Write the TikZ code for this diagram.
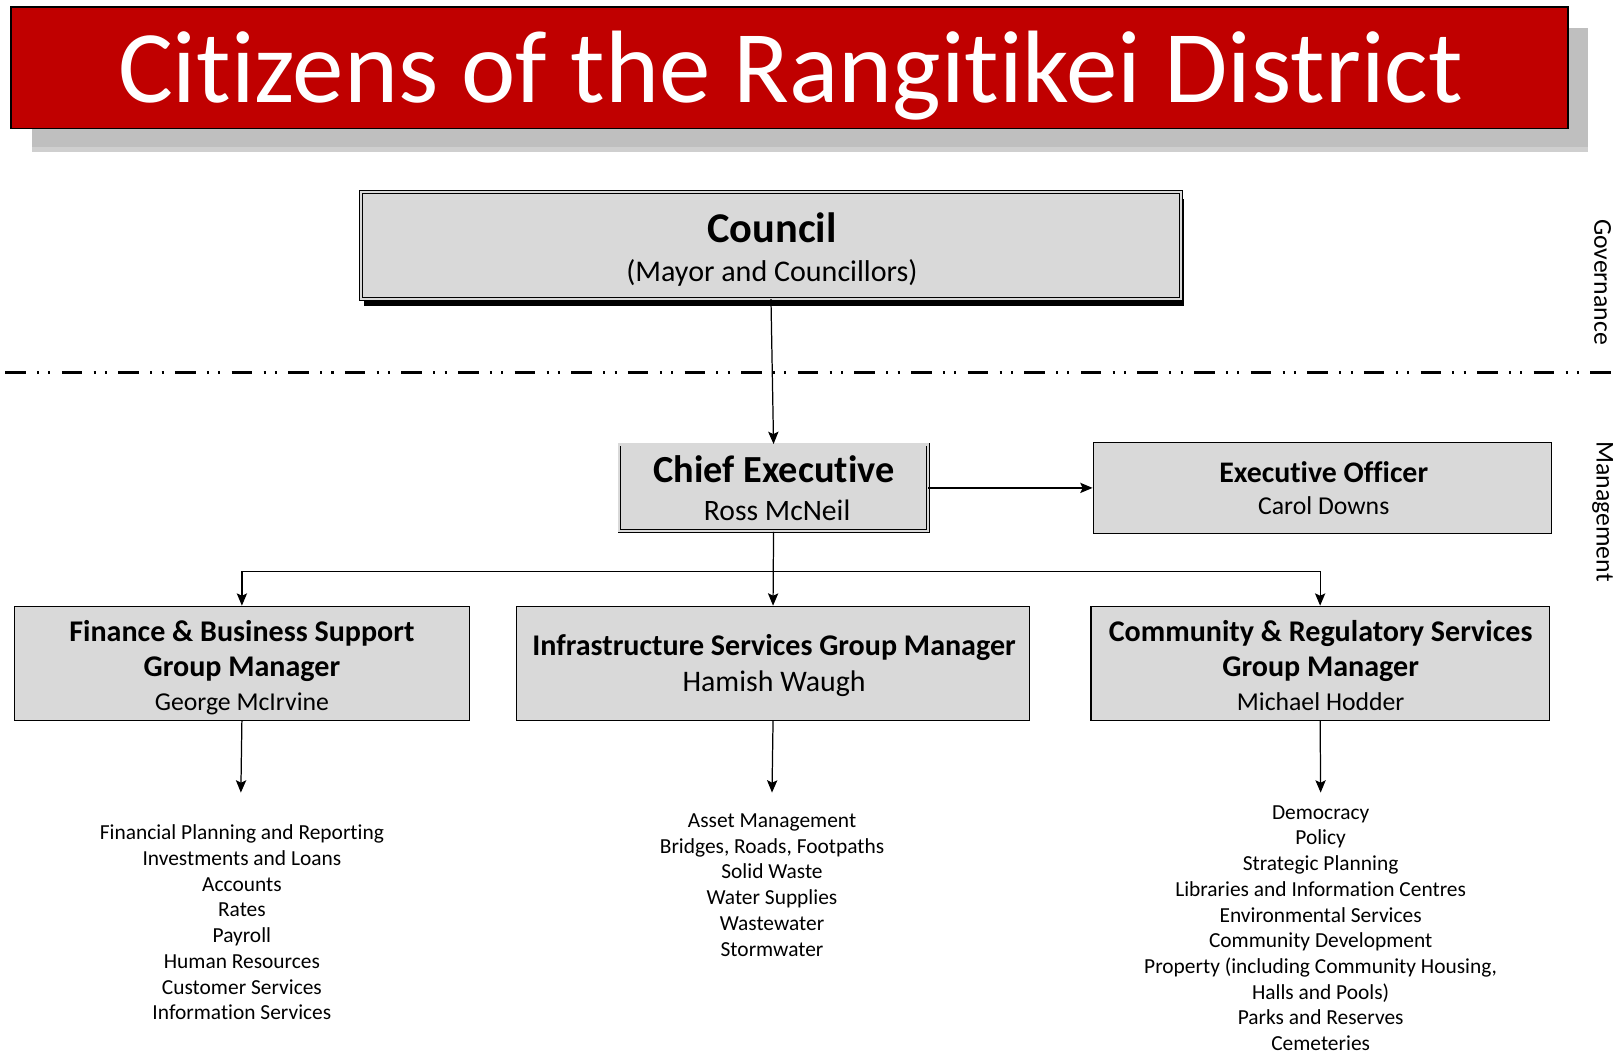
\documentclass[tikz,border=0pt]{standalone}
\usepackage{fontspec}
\setmainfont{Carlito}[Ligatures=NoCommon]
\usetikzlibrary{arrows.meta,calc,backgrounds}
\definecolor{titlered}{HTML}{C00000}
\definecolor{boxgray}{HTML}{D9D9D9}
\definecolor{shadowgray}{HTML}{BFBFBF}
\definecolor{shadowlight}{HTML}{CFCFCF}

% keep t-i and f-i / f-f as separate glyphs
\XeTeXinterchartokenstate=1
\newXeTeXintercharclass\tcls
\newXeTeXintercharclass\icls
\newXeTeXintercharclass\fcls
\XeTeXcharclass`t=\tcls
\XeTeXcharclass`i=\icls
\XeTeXcharclass`f=\fcls
\XeTeXinterchartoks\tcls\icls={\kern0pt }
\XeTeXinterchartoks\fcls\icls={\kern0pt }
\XeTeXinterchartoks\fcls\fcls={\kern0pt }

\begin{document}
\begin{tikzpicture}[x=0.5pt,y=-0.5pt,
  box/.style={draw=black, line width=0.6pt, fill=boxgray, inner sep=0pt, rectangle},
  dbox/.style={draw=black, line width=0.45pt, double=boxgray, double distance=1pt, fill=boxgray, inner sep=0pt, rectangle},
  arr/.style={-{Stealth[length=6pt,width=5pt,inset=1.2pt]}, line width=0.6pt},
  txt/.style={inner sep=0pt, anchor=base},
  unitlist/.style={inner sep=0pt, anchor=north, align=center, font=\fontsize{10.4}{12.5}\selectfont},
  sidelabel/.style={inner sep=0pt, rotate=-90, font=\fontsize{12.5}{15}\selectfont}
]
\useasboundingbox (0,0) rectangle (1568,1023);

% banner with its offset shadow
\fill[shadowgray] (31,27) rectangle (1543,148);
\fill[shadowlight] (31,143) rectangle (1543,148);
\node[draw=black, line width=0.8pt, fill=titlered, inner sep=0pt, minimum width=756pt, minimum height=59pt] (banner) at (767,66) {};
\node[txt, text=white, font=\fontsize{50}{60}\selectfont] (bannertext) at (768,100) {Citizens of the Rangitikei District};

% council, with a black drop shadow behind it
\node[dbox, minimum width=398pt, minimum height=51.7pt] (council) at (749,238.5) {};
\begin{scope}[on background layer]
  \fill[black] ($(council.south west)+(3,7)$) rectangle ($(council.north east)+(3,7)$);
\end{scope}
\node[txt, font=\fontsize{20.6}{24}\selectfont\bfseries] (counciltitle) at (750,236) {Council};
\node[txt, font=\fontsize{14.6}{18}\selectfont] (councilsub) at (750,273) {(Mayor and Councillors)};

% governance / management divide
\coordinate (divl) at (5,362);
\coordinate (divr) at (1568,362);
\draw[line width=1.2pt, dash pattern=on 10pt off 5.5pt on 1pt off 4.5pt on 1pt off 5.5pt] (divl) -- (divr);
\node[sidelabel] (gov) at (1557,274) {Governance};
\node[sidelabel] (mgmt) at (1557,497) {Management};

% management boxes
\node[dbox, minimum width=149.7pt, minimum height=42.2pt] (chief) at (751.5,474) {};
\node[txt, font=\fontsize{18.6}{22}\selectfont\bfseries] (chieftitle) at (752,469) {Chief Executive};
\node[txt, font=\fontsize{14.4}{17}\selectfont] (chiefname) at (755,506) {Ross McNeil};

\node[box, minimum width=222.5pt, minimum height=44pt] (exec) at (1284.5,474) {};
\node[txt, font=\fontsize{14.5}{17}\selectfont\bfseries] (exectitle) at (1286,469) {Executive Officer};
\node[txt, font=\fontsize{12.5}{15}\selectfont] (execname) at (1286,500) {Carol Downs};

\node[box, minimum width=221pt, minimum height=55.5pt] (fin) at (235,644.5) {};
\node[txt, font=\fontsize{14.6}{17}\selectfont\bfseries] (fintitle) at (235,623) {Finance \& Business Support};
\node[txt, font=\fontsize{14.6}{17}\selectfont\bfseries] (finrole) at (235,657) {Group Manager};
\node[txt, font=\fontsize{12.5}{15}\selectfont] (finname) at (235,690) {George McIrvine};

\node[box, minimum width=249pt, minimum height=55.5pt] (infra) at (751,644.5) {};
\node[txt, font=\fontsize{14.6}{17}\selectfont\bfseries] (infratitle) at (752,637) {Infrastructure Services Group Manager};
\node[txt, font=\fontsize{14.5}{17}\selectfont] (infraname) at (752,672) {Hamish Waugh};

\node[box, minimum width=222.5pt, minimum height=55.5pt] (comm) at (1282.5,644.5) {};
\node[txt, font=\fontsize{14.6}{17}\selectfont\bfseries] (commtitle) at (1283,623) {Community \& Regulatory Services};
\node[txt, font=\fontsize{14.6}{17}\selectfont\bfseries] (commrole) at (1283,657) {Group Manager};
\node[txt, font=\fontsize{12.5}{15}\selectfont] (commname) at (1283,690) {Michael Hodder};

% reporting lines
\coordinate (bus) at (751.5,555);
\draw[arr] (council.south) -- (chief.north);
\draw[arr] (chief.east) -- (exec.west);
\draw[arr] (chief.south) -- (infra.north);
\draw[arr] (bus) -| (fin.north);
\draw[arr] (bus) -| (comm.north);

% activity lists under each group
\coordinate (finend) at (234,770);
\coordinate (infraend) at (750,770);
\coordinate (commend) at (1283,770);
\draw[arr] (fin.south) -- (finend);
\draw[arr] (infra.south) -- (infraend);
\draw[arr] (comm.south) -- (commend);

\node[unitlist] (finlist) at (235,801) {Financial Planning and Reporting\\Investments and Loans\\Accounts\\Rates\\Payroll\\Human Resources\\Customer Services\\Information Services};
\node[unitlist] (infralist) at (750,790) {Asset Management\\Bridges, Roads, Footpaths\\Solid Waste\\Water Supplies\\Wastewater\\Stormwater};
\node[unitlist] (commlist) at (1283,782) {Democracy\\Policy\\Strategic Planning\\Libraries and Information Centres\\Environmental Services\\Community Development\\Property (including Community Housing,\\Halls and Pools)\\Parks and Reserves\\Cemeteries};
\end{tikzpicture}
\end{document}
